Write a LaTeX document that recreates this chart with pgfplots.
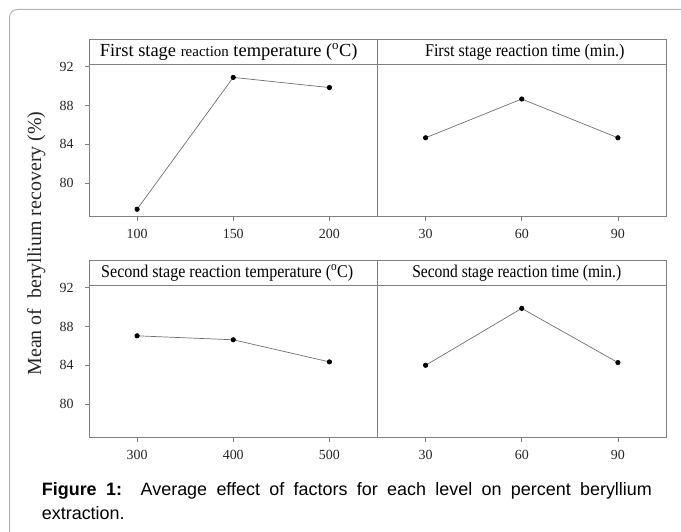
\documentclass[border=0pt]{standalone}
\usepackage{graphicx}
\usepackage{fontspec}
\setmainfont{Liberation Serif}
\newfontfamily\capfont{Liberation Sans}
\usepackage{pgfplots}
\pgfplotsset{compat=1.18}

\definecolor{axgray}{HTML}{808080}
\definecolor{lngray}{HTML}{707070}
\definecolor{frgray}{HTML}{B4B4B4}

\pgfplotsset{
 panel/.style={
  scale only axis, width=288.5bp, height=177.4bp,
  xmin=-0.5, xmax=2.5, ymin=76.53, ymax=94.83,
  xtick={0,1,2},
  axis line style={axgray, line width=0.8bp},
  tick style={axgray, line width=0.8bp},
  tick align=outside, major tick length=4bp,
  xtick pos=left, ytick pos=left,
  ticklabel style={font=\fontsize{14}{16}\selectfont, text=black!85},
  /pgf/number format/assume math mode=true,
  xticklabel style={yshift=-5bp},
  yticklabel style={xshift=-8bp},
  clip=false,
 },
 dat/.style={lngray, line width=0.7bp, mark=*, mark size=2.2bp, mark options={fill=black, draw=black}},
}
% #1 x shift, #2 horizontal scale, #3 text
\newcommand{\strip}[3]{%
  \draw[axgray, line width=0.8bp] (axis cs:-0.5,92.25) -- (axis cs:2.5,92.25);
  \node[font=\fontsize{18}{20}\selectfont, inner sep=0pt, xshift=#1] at (axis cs:1,93.54) {\scalebox{#2}[1]{#3}};
}

\begin{document}
\begin{tikzpicture}
\useasboundingbox (0bp,0bp) rectangle (681bp,532bp);
\draw[frgray, line width=1bp, rounded corners=8bp] (9.5bp,-20bp) -- (9.5bp,522.5bp) -- (720bp,522.5bp);

% top left
\begin{axis}[panel, at={(89bp,315.3bp)}, anchor=south west,
  xticklabels={100,150,200}, ytick={80,84,88,92}]
\addplot[dat] coordinates {(0,77.3) (1,90.9) (2,89.85)};
\strip{-4.5bp}{1}{\fontsize{18.5}{20}\selectfont First stage {\fontsize{15}{16}\selectfont reaction} temperature (\textsuperscript{o}C)}
\end{axis}

% top right
\begin{axis}[panel, at={(377.5bp,315.3bp)}, anchor=south west,
  xticklabels={30,60,90}, ytick=\empty]
\addplot[dat] coordinates {(0,84.67) (1,88.67) (2,84.67)};
\strip{3bp}{0.9}{First stage reaction time (min.)}
\end{axis}

% bottom left
\begin{axis}[panel, at={(89bp,94.3bp)}, anchor=south west,
  xticklabels={300,400,500}, ytick={80,84,88,92}]
\addplot[dat] coordinates {(0,87.04) (1,86.63) (2,84.35)};
\strip{-6bp}{0.895}{Second stage reaction temperature (\textsuperscript{o}C)}
\end{axis}

% bottom right
\begin{axis}[panel, at={(377.5bp,94.3bp)}, anchor=south west,
  xticklabels={30,60,90}, ytick=\empty]
\addplot[dat] coordinates {(0,84.0) (1,89.87) (2,84.28)};
\strip{-5bp}{0.865}{Second stage reaction time (min.)}
\end{axis}

\node[rotate=90, anchor=base, inner sep=0pt, font=\fontsize{20}{24}\selectfont, text=black!85]
  at (41bp,288.5bp) {Mean of\ \ beryllium recovery (\%)};

\node[anchor=base west, inner sep=0pt, font=\capfont\fontsize{18}{23}\selectfont]
  at (41.7bp,36.3bp) {\makebox[610bp][s]{\textbf{Figure 1:}\ \ Average effect of factors for each level on percent beryllium}};
\node[anchor=base west, inner sep=0pt, font=\capfont\fontsize{18}{23}\selectfont]
  at (41.7bp,13bp) {extraction.};
\end{tikzpicture}
\end{document}
